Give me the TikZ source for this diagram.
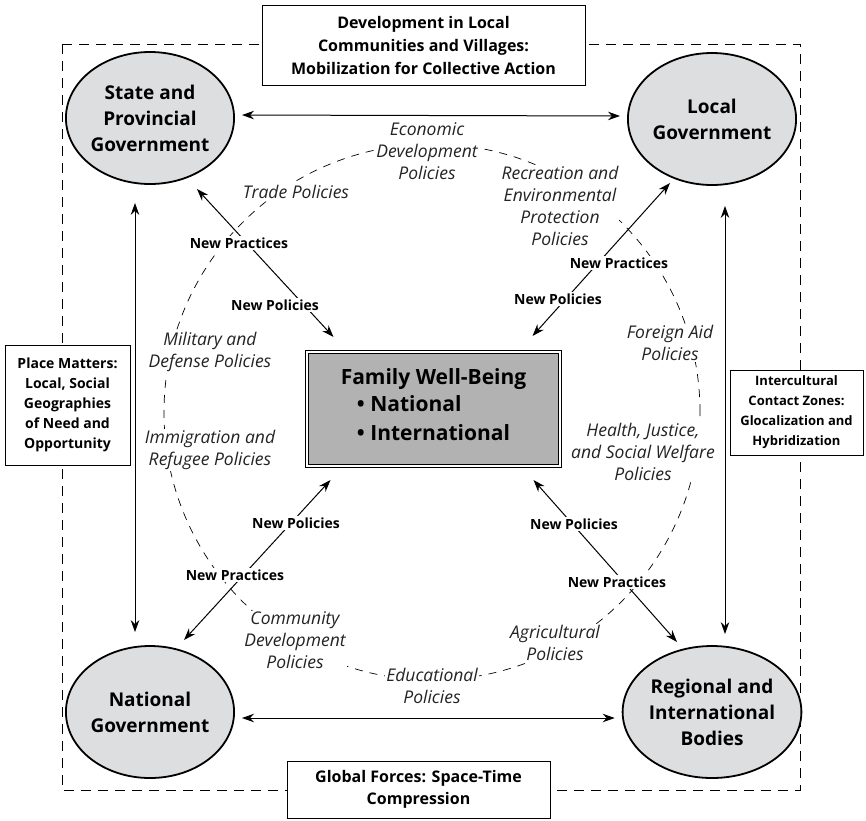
\documentclass[tikz,border=0pt]{standalone}
\usepackage{fontspec}
\setmainfont{Open Sans}
\usetikzlibrary{shapes.geometric,arrows.meta,positioning}
\definecolor{govfill}{RGB}{221,222,224}
\definecolor{familyfill}{RGB}{178,178,178}
\definecolor{policygray}{RGB}{35,35,35}
\tikzset{
  gov/.style={ellipse, draw, line width=1.8pt, fill=govfill, minimum width=156pt,
    minimum height=132pt, inner sep=0pt, align=center,
    font=\bfseries\fontsize{19}{26}\selectfont},
  familybox/.style={draw, line width=0.8pt, double=white, double distance=1.8pt,
    fill=familyfill, minimum width=253pt, minimum height=114pt, inner sep=0pt,
    align=center, font=\bfseries\fontsize{21}{29}\selectfont},
  sidebox/.style={draw, line width=0.9pt, fill=white, align=center, inner sep=0pt,
    font=\bfseries\fontsize{14}{20}\selectfont},
  policy/.style={fill=white, inner sep=1pt, align=center, text=policygray,
    font=\itshape\fontsize{17.5}{22}\selectfont},
  newtag/.style={fill=white, inner sep=2pt, font=\bfseries\fontsize{14}{16}\selectfont},
  tie/.style={{Stealth[length=12pt,width=8.5pt]}-{Stealth[length=12pt,width=8.5pt]},
    line width=1pt},
  ring/.style={dash pattern=on 8pt off 7pt, line width=0.7pt},
}

\begin{document}
\begin{tikzpicture}[x=1pt,y=-1pt]
  \useasboundingbox (0,0) rectangle (866,820);

  % Frame and policy ring
  \draw[ring, dash pattern=on 10pt off 7pt] (62,44) rectangle (800,790);
  \draw[ring] (432,412) circle (268pt);

  % Policy labels on the ring
  \node[policy] (econ) at (427,151) {Economic\\Development\\Policies};
  \node[policy] (trade) at (296,192) {Trade Policies};
  \node[policy] (recreation) at (560,206) {Recreation and\\Environmental\\Protection\\Policies};
  \node[policy] (military) at (210,352) {Military and\\Defense Policies};
  \node[policy] (immigration) at (210,450) {Immigration and\\Refugee Policies};
  \node[policy] (foreignaid) at (670,343) {Foreign Aid\\Policies};
  \node[policy] (health) at (643,452) {Health, Justice,\\and Social Welfare\\Policies};
  \node[policy] (community) at (295,640) {Community\\Development\\Policies};
  \node[policy] (educational) at (432,686) {Educational\\Policies};
  \node[policy] (agricultural) at (555,643) {Agricultural\\Policies};

  % Levels of government
  \node[gov] (state) at (150,118) {State and\\Provincial\\Government};
  \node[gov] (local) at (712,119) {Local\\Government};
  \node[gov] (natgov) at (150,712) {National\\Government};
  \node[gov] (regional) at (712,712) {Regional and\\International\\Bodies};

  % Family in the middle
  \node[familybox] (family) at (433.5,409)
    {Family Well-Being\\[1pt]\begin{tabular}{@{}l@{}}\textbullet\ National\\\textbullet\ International\end{tabular}};

  % Context boxes
  \node[sidebox, font=\bfseries\fontsize{16}{23}\selectfont, minimum width=323pt, minimum height=80pt]
    (villages) at (423.5,45) {Development in Local\\Communities and Villages:\\Mobilization for Collective Action};
  \node[sidebox, minimum width=125pt, minimum height=120pt]
    (place) at (67.5,405) {Place Matters:\\Local, Social\\Geographies\\of Need and\\Opportunity};
  \node[sidebox, font=\bfseries\fontsize{13}{20}\selectfont, minimum width=133pt, minimum height=85pt]
    (contact) at (796.5,412.5) {Intercultural\\Contact Zones:\\Glocalization and\\Hybridization};
  \node[sidebox, font=\bfseries\fontsize{16}{22}\selectfont, minimum width=263pt, minimum height=57pt]
    (global) at (418.5,789.5) {Global Forces: Space-Time\\Compression};

  % Links between levels
  \draw[tie, shorten <=7pt, shorten >=7pt] ([yshift=3pt]state.east) -- ([yshift=3pt]local.west);
  \draw[tie, shorten <=7pt, shorten >=7pt] ([yshift=-6pt]natgov.east) -- ([yshift=-6pt]regional.west);
  \draw[tie, shorten <=18pt, shorten >=13pt] ([xshift=-15pt]state.south) -- ([xshift=-15pt]natgov.north);
  \draw[tie, shorten <=20pt, shorten >=11pt] ([xshift=13pt]local.south) -- ([xshift=13pt]regional.north);

  % Links to the family
  \draw[tie] ([shift={(47,71)}]state.center) -- ([shift={(-100,-72)}]family.center);
  \draw[tie] ([shift={(-42,64)}]local.center) -- ([shift={(99,-73)}]family.center);
  \draw[tie] ([shift={(-103,71)}]family.center) -- ([shift={(34,-72)}]natgov.center);
  \draw[tie] ([shift={(100,71)}]family.center) -- ([shift={(-35,-70)}]regional.center);

  % New practices and policies
  \node[newtag] (tlpractice) at (239,243) {New Practices};
  \node[newtag] (tlpolicy) at (275,305) {New Policies};
  \node[newtag] (trpractice) at (619,263) {New Practices};
  \node[newtag] (trpolicy) at (558,299) {New Policies};
  \node[newtag] (blpolicy) at (296,523) {New Policies};
  \node[newtag] (blpractice) at (235,575) {New Practices};
  \node[newtag] (brpolicy) at (574,524) {New Policies};
  \node[newtag] (brpractice) at (617,582) {New Practices};
\end{tikzpicture}
\end{document}
